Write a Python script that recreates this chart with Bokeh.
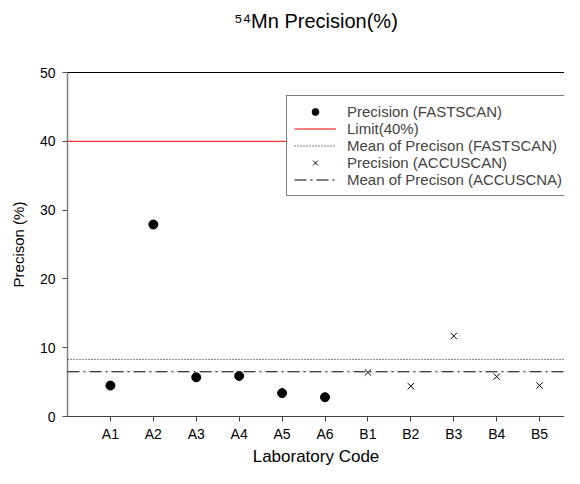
from bokeh.plotting import figure
from bokeh.models import Span, Legend, LegendItem, FixedTicker, ColumnDataSource, LinearAxis
from bokeh.embed import file_html
from bokeh.resources import INLINE

# ---- data ----
lab_codes = ["A1", "A2", "A3", "A4", "A5", "A6", "B1", "B2", "B3", "B4", "B5"]
fast_labs = ["A1", "A2", "A3", "A4", "A5", "A6"]
fast_precision = [4.5, 27.9, 5.7, 5.9, 3.4, 2.8]
accu_labs = ["B1", "B2", "B3", "B4", "B5"]
accu_precision = [6.4, 4.4, 11.7, 5.8, 4.5]
limit_value = 40
mean_fast = 8.3
mean_accu = 6.5
y_ticks = [0, 10, 20, 30, 40, 50]
x_lo, x_hi = 0, 11.58
title_text = "\u2075\u2074Mn Precision(%)"

FONT = "Liberation Sans"
DASHDOT = "12 4 2 4"

pos = {c: i + 1 for i, c in enumerate(lab_codes)}

p = figure(width=564, height=468, x_range=(x_lo, x_hi), y_range=(y_ticks[0], y_ticks[-1]),
           output_backend="svg", toolbar_location=None,
           min_border_left=67, min_border_right=0, min_border_top=72,
           min_border_bottom=50)
p.title.visible = False
p.xgrid.visible = False
p.ygrid.visible = False
p.outline_line_color = None
p.background_fill_color = "white"
p.border_fill_color = "white"

# bottom and left axes
bx = p.below[0]
ly = p.left[0]
bx.ticker = FixedTicker(ticks=[pos[c] for c in lab_codes])
bx.major_label_overrides = {pos[c]: c for c in lab_codes}
ly.ticker = FixedTicker(ticks=y_ticks)
for ax in (bx, ly):
    ax.major_tick_in = 0
    ax.major_tick_out = 5
    ax.minor_tick_line_color = None
    ax.major_label_text_font = FONT
    ax.major_label_text_font_size = "14px"
    ax.major_label_text_color = "black"
    ax.axis_label_text_font = FONT
    ax.axis_label_text_font_style = "normal"
    ax.axis_label_text_color = "black"
ly.axis_line_color = "#808080"
ly.axis_line_width = 1.5
ly.major_tick_line_color = "#555555"
ly.major_label_standoff = 7
ly.axis_label = "Precison (%)"
ly.axis_label_text_font_size = "15px"
ly.axis_label_standoff = 10
bx.axis_line_color = "#404040"
bx.major_tick_line_color = "#404040"
bx.major_label_standoff = 4
bx.axis_label = "Laboratory Code"
bx.axis_label_text_font_size = "17px"
bx.axis_label_standoff = 2

# top axis: frame top border + chart title
top_axis = LinearAxis(ticker=FixedTicker(ticks=[]), axis_label=title_text)
top_axis.axis_line_color = "black"
top_axis.major_tick_line_color = None
top_axis.minor_tick_line_color = None
top_axis.axis_label_text_font = FONT
top_axis.axis_label_text_font_size = "20px"
top_axis.axis_label_text_font_style = "normal"
top_axis.axis_label_text_color = "black"
top_axis.axis_label_standoff = 41
p.add_layout(top_axis, "above")

# reference lines (drawn as spans)
p.add_layout(Span(location=limit_value, dimension="width", line_color="red", line_width=1))
p.add_layout(Span(location=mean_fast, dimension="width", line_color="black",
                  line_width=1, line_dash="1 2"))
p.add_layout(Span(location=mean_accu, dimension="width", line_color="black",
                  line_width=1, line_dash=DASHDOT))

# legend proxies for the reference lines (hidden renderers)
xs = [x_lo, x_hi]
r_lim = p.line(x=xs, y=[limit_value] * 2, line_color="#ff0000", line_width=1, visible=False)
r_mf = p.line(x=xs, y=[mean_fast] * 2, line_color="black", line_width=1,
              line_dash="1 2", visible=False)
r_ma = p.line(x=xs, y=[mean_accu] * 2, line_color="black", line_width=1,
              line_dash=DASHDOT, visible=False)

# data
fast_src = ColumnDataSource(dict(x=[pos[c] for c in fast_labs], y=fast_precision))
accu_src = ColumnDataSource(dict(x=[pos[c] for c in accu_labs], y=accu_precision))
r_fast = p.scatter("x", "y", source=fast_src, marker="circle", size=9,
                   fill_color="black", line_color="black")
r_accu = p.scatter("x", "y", source=accu_src, marker="x", size=9,
                   line_color="black", line_width=1)

legend = Legend(items=[
    LegendItem(label="Precision (FASTSCAN)", renderers=[r_fast]),
    LegendItem(label="Limit(40%)", renderers=[r_lim]),
    LegendItem(label="Mean of Precison (FASTSCAN)", renderers=[r_mf]),
    LegendItem(label="Precision (ACCUSCAN)", renderers=[r_accu]),
    LegendItem(label="Mean of Precison (ACCUSCNA)", renderers=[r_ma]),
], location=(219, 220))
legend.label_text_font = FONT
legend.label_text_font_size = "15px"
legend.label_height = 17
legend.glyph_height = 17
legend.glyph_width = 42
legend.label_standoff = 11
legend.spacing = 0
legend.padding = 7
legend.margin = 0
legend.border_line_color = "black"
legend.border_line_width = 1
legend.background_fill_color = "white"
legend.background_fill_alpha = 1.0
legend.inactive_fill_alpha = 0.0
legend.click_policy = "none"
p.add_layout(legend, "center")

open("out.html", "w").write(file_html(p, INLINE))
